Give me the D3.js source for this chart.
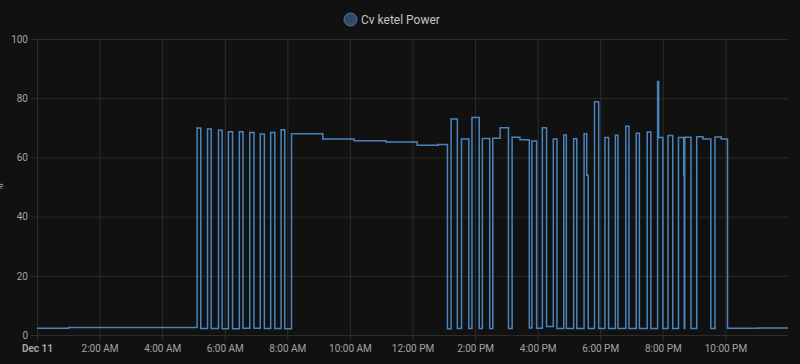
<!DOCTYPE html>
<html>
<head>
<meta charset="utf-8">
<script src="https://cdn.jsdelivr.net/npm/d3@7/dist/d3.min.js"></script>
<style>
  html, body { margin: 0; padding: 0; background: #111111; }
  svg { display: block; font-family: Roboto, "Noto Sans", sans-serif; }
</style>
</head>
<body>
<svg id="chart" width="800" height="364"></svg>
<script>
// ---- data ----
const seriesName = "Cv ketel Power";
const unitLabel = "%";
const day = "2023-12-11";
const domainEnd = "2023-12-12 00:00";
const yTicks = [0, 20, 40, 60, 80, 100];

const times = [
  "00:00","01:01",
  "05:07","05:14","05:27","05:34","05:48","05:55","06:07","06:15",
  "06:28","06:35","06:48","06:56","07:08","07:16","07:28","07:36",
  "07:48","07:55","08:08","09:08","10:08","11:09","12:09","12:49",
  "13:07","13:14","13:26","13:34","13:48","13:54","14:08","14:14",
  "14:28","14:34","14:48","15:04","15:11","15:26","15:44","15:49",
  "15:58","16:09","16:17","16:30","16:37","16:50","16:55","17:09",
  "17:15","17:29","17:34","17:37","17:49","17:57","18:09","18:16",
  "18:29","18:34","18:49","18:55","19:09","19:15","19:30","19:37",
  "19:50","19:52","20:00","20:10","20:19","20:30","20:40","20:41",
  "20:42","20:54","21:05","21:17","21:32","21:40","21:52","22:04",
  "23:03","23:59"
];
const values = [
  2.3, 2.5,
  69.9, 2.2, 69.6, 2.2, 69.2, 2.1, 68.7, 2.1,
  68.7, 2.3, 68.4, 2.3, 67.9, 2.2, 68.4, 2.2,
  69.3, 2.1, 68.0, 66.2, 65.6, 65.2, 64.1, 64.4,
  2.1, 73.0, 2.2, 66.2, 2.2, 73.5, 2.2, 66.4,
  2.2, 66.5, 70.0, 2.2, 66.8, 66.0, 2.4, 65.5,
  2.3, 70.0, 2.9, 66.2, 2.2, 67.6, 2.2, 66.3,
  2.2, 68.0, 54.0, 2.2, 78.8, 2.2, 66.7, 2.2,
  67.5, 2.2, 70.5, 2.2, 68.2, 2.2, 68.6, 2.2,
  85.6, 66.7, 2.2, 67.4, 2.2, 66.7, 54.0, 2.2,
  66.8, 2.2, 67.0, 66.2, 2.2, 66.9, 66.2, 2.3,
  2.4, 2.4
];

// ---- layout ----
const W = 800, H = 364;
const m = { left: 37, right: 12, top: 39, bottom: 29 };
const parse = d3.timeParse("%Y-%m-%d %H:%M");
const data = times.map((t, i) => ({ t: parse(day + " " + t), v: values[i] }));

const svg = d3.select("#chart");
svg.append("rect").attr("width", W).attr("height", H).attr("fill", "#111111");

const x = d3.scaleTime()
  .domain([parse(day + " 00:00"), parse(domainEnd)])
  .range([m.left, W - m.right]);
const y = d3.scaleLinear().domain([0, 100]).range([H - m.bottom, m.top]);

const gridColor = "#2c2c2c";
const textColor = "#a3a3a3";

// y axis with gridlines
const yAxis = svg.append("g")
  .attr("transform", `translate(${m.left},0)`)
  .call(d3.axisLeft(y).tickValues(yTicks).tickSize(6).tickPadding(3));
yAxis.select(".domain").remove();
yAxis.selectAll(".tick line").attr("stroke", gridColor);
yAxis.selectAll(".tick text").attr("fill", textColor).attr("font-size", 10)
  .attr("font-family", "Roboto, sans-serif");
yAxis.selectAll(".tick").append("line")
  .attr("x1", 0).attr("x2", W - m.right - m.left)
  .attr("stroke", gridColor);

// x axis with gridlines
const fmt = d3.timeFormat("%-I:%M %p");
const xTickVals = x.ticks(d3.timeHour.every(2)).filter(d => d < x.domain()[1]);
const xAxis = svg.append("g")
  .attr("transform", `translate(0,${H - m.bottom})`)
  .call(d3.axisBottom(x).tickValues(xTickVals).tickSize(6).tickPadding(4)
    .tickFormat(d => d.getHours() === 0 ? d3.timeFormat("%b %-d")(d) : fmt(d)));
xAxis.select(".domain").remove();
xAxis.selectAll(".tick line").attr("stroke", gridColor);
xAxis.selectAll(".tick text").attr("fill", textColor).attr("font-size", 10)
  .attr("font-family", "Roboto, sans-serif")
  .attr("font-weight", d => d.getHours() === 0 ? "bold" : "normal");
xAxis.selectAll(".tick").append("line")
  .attr("y1", 0).attr("y2", -(H - m.bottom - m.top))
  .attr("stroke", gridColor);

// unit label (partly clipped at the left edge, as in the reference)
svg.append("text")
  .attr("transform", `translate(3,${(y(0) + y(100)) / 2}) rotate(-90)`)
  .attr("text-anchor", "middle")
  .attr("fill", textColor).attr("font-size", 10)
  .text(unitLabel);

// line
const line = d3.line().x(d => x(d.t)).y(d => y(d.v)).curve(d3.curveStepAfter);
const lastPt = { t: x.domain()[1], v: values[values.length - 1] };
svg.append("path")
  .datum(data.concat([lastPt]))
  .attr("d", line)
  .attr("fill", "none")
  .attr("stroke", "#4a84bd")
  .attr("stroke-width", 1.5)
  .attr("stroke-linejoin", "miter");

// legend
const lg = svg.append("g");
lg.append("circle").attr("cx", 350.5).attr("cy", 19.5).attr("r", 6.5)
  .attr("fill", "#2f4b68").attr("stroke", "#44739e").attr("stroke-width", 1);
lg.append("text").attr("x", 361).attr("y", 24)
  .attr("fill", "#c4c4c4").attr("font-size", 12)
  .attr("font-family", "Roboto, sans-serif")
  .text(seriesName);
</script>
</body>
</html>
